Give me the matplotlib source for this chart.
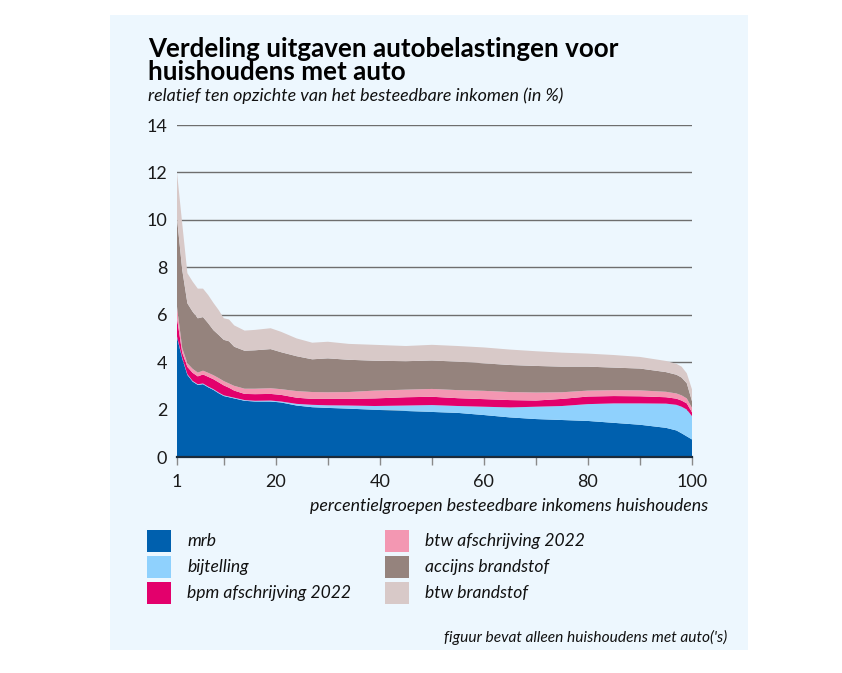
import numpy as np
import matplotlib
matplotlib.use('Agg')
import matplotlib.pyplot as plt
from matplotlib.patches import Rectangle

plt.rcParams['font.family'] = ['Lato', 'DejaVu Sans']

pct = [1, 2, 3, 4, 5, 6, 7, 8, 9, 10, 11, 12, 14, 16, 19, 21, 24, 27, 30, 34, 39,
       45, 50, 55, 60, 65, 70, 75, 80, 85, 90, 95, 97, 98, 99, 100]

# uitgaven per belasting, % van besteedbaar inkomen
mrb = [5.05, 4.16, 3.46, 3.18, 3.04, 3.07, 2.94, 2.83, 2.69, 2.57, 2.52, 2.47, 2.37, 2.34,
       2.34, 2.30, 2.17, 2.10, 2.07, 2.04, 1.99, 1.94, 1.90, 1.86, 1.77, 1.67, 1.60, 1.56,
       1.52, 1.44, 1.36, 1.23, 1.12, 1.00, 0.87, 0.74]
bijtelling = [0.03, 0.03, 0.03, 0.03, 0.03, 0.03, 0.03, 0.03, 0.03, 0.03, 0.03, 0.03, 0.03,
              0.03, 0.04, 0.04, 0.07, 0.10, 0.11, 0.13, 0.16, 0.23, 0.29, 0.29, 0.35, 0.42,
              0.52, 0.59, 0.71, 0.82, 0.90, 1.02, 1.08, 1.12, 1.13, 0.98]
bpm_afschr = [0.77, 0.21, 0.31, 0.34, 0.33, 0.38, 0.41, 0.42, 0.43, 0.42, 0.37, 0.30, 0.26,
              0.28, 0.28, 0.28, 0.26, 0.25, 0.27, 0.28, 0.32, 0.35, 0.35, 0.33, 0.32, 0.31,
              0.26, 0.30, 0.32, 0.31, 0.30, 0.27, 0.26, 0.26, 0.26, 0.16]
btw_afschr = [0.49, 0.20, 0.15, 0.17, 0.16, 0.16, 0.17, 0.17, 0.18, 0.18, 0.18, 0.20, 0.22,
              0.23, 0.24, 0.24, 0.28, 0.29, 0.28, 0.29, 0.33, 0.32, 0.33, 0.34, 0.35, 0.34,
              0.34, 0.28, 0.25, 0.25, 0.25, 0.23, 0.22, 0.22, 0.21, 0.19]
accijns = [3.73, 3.30, 2.53, 2.41, 2.29, 2.26, 2.09, 1.90, 1.82, 1.74, 1.78, 1.65, 1.60,
           1.62, 1.65, 1.56, 1.47, 1.38, 1.43, 1.36, 1.26, 1.20, 1.20, 1.20, 1.16, 1.14,
           1.12, 1.08, 1.01, 0.95, 0.92, 0.83, 0.79, 0.75, 0.64, 0.28]
btw_brandstof = [1.93, 1.95, 1.27, 1.27, 1.25, 1.20, 1.19, 1.15, 1.05, 0.91, 0.92, 0.90,
                 0.85, 0.86, 0.88, 0.86, 0.75, 0.70, 0.70, 0.67, 0.67, 0.64, 0.66, 0.66,
                 0.67, 0.65, 0.62, 0.59, 0.55, 0.53, 0.49, 0.47, 0.46, 0.46, 0.42, 0.50]

labels = ['mrb', 'bijtelling', 'bpm afschrijving 2022', 'btw afschrijving 2022',
          'accijns brandstof', 'btw brandstof']
colors = ['#0060ae', '#8fd1fd', '#e3006c', '#f397b2', '#95837d', '#d8c9c8']

W, H = 842, 673
fig = plt.figure(figsize=(W / 100, H / 100), dpi=100)
fig.patch.set_facecolor('white')

# lichtblauw paneel
fig.patches.append(Rectangle((110 / W, 1 - 650 / H), 638 / W, 635 / H,
                             transform=fig.transFigure, facecolor='#edf7fe',
                             edgecolor='none', zorder=-10))

ax = fig.add_axes([177 / W, 1 - 457 / H, 515 / W, 332 / H])
ax.set_zorder(1)
ax.set_facecolor('none')
ax.stackplot(pct, mrb, bijtelling, bpm_afschr, btw_afschr, accijns, btw_brandstof,
             colors=colors, linewidth=0, zorder=2)

ax.set_xlim(1, 100)
ax.set_ylim(0, 14)
ax.set_yticks(range(0, 15, 2))
ax.set_xticks([1] + list(range(10, 101, 10)))
ax.set_xticklabels(['1', '', '20', '', '40', '', '60', '', '80', '', '100'])
ax.grid(axis='y', color='#6e6e6e', linewidth=1.0, zorder=0)
ax.set_axisbelow(True)
for s in ['top', 'right', 'left']:
    ax.spines[s].set_visible(False)
ax.spines['bottom'].set_color('#1c2b3a')
ax.spines['bottom'].set_linewidth(1.6)
ax.spines['bottom'].set_zorder(3)
ax.tick_params(axis='x', direction='out', length=6, width=1, color='#8a8a8a',
               labelsize=13, labelcolor='#1a1a1a', pad=6)
ax.tick_params(axis='y', length=0, labelsize=13, labelcolor='#1a1a1a', pad=7)

# titels
fig.text(148 / W, 1 - 57 / H, 'Verdeling uitgaven autobelastingen voor',
         fontsize=18.7, fontweight='bold', color='black', va='baseline')
fig.text(148 / W, 1 - 80 / H, 'huishoudens met auto',
         fontsize=18.7, fontweight='bold', color='black', va='baseline')
fig.text(148 / W, 1 - 101 / H, 'relatief ten opzichte van het besteedbare inkomen (in %)',
         fontsize=12.9, style='italic', color='#111111', va='baseline')

fig.text(708 / W, 1 - 506 / H, 'percentielgroepen besteedbare inkomens huishoudens',
         fontsize=12.8, style='italic', color='#111111', ha='right', va='center')

# legenda
cols = [(147, 187), (385, 425)]
rows = [541, 567, 593]
for i, (lab, c) in enumerate(zip(labels, colors)):
    sx, tx = cols[i // 3]
    y = rows[i % 3]
    fig.patches.append(Rectangle((sx / W, 1 - (y + 11) / H), 24 / W, 22 / H,
                                 transform=fig.transFigure, facecolor=c,
                                 edgecolor='none', zorder=2))
    fig.text(tx / W, 1 - y / H, lab, fontsize=12.6, style='italic', color='#111111',
             va='center')

fig.text(727 / W, 1 - 637 / H, "figuur bevat alleen huishoudens met auto('s)",
         fontsize=11.2, style='italic', color='#111111', ha='right', va='center')

fig.savefig('out.png', dpi=100)
